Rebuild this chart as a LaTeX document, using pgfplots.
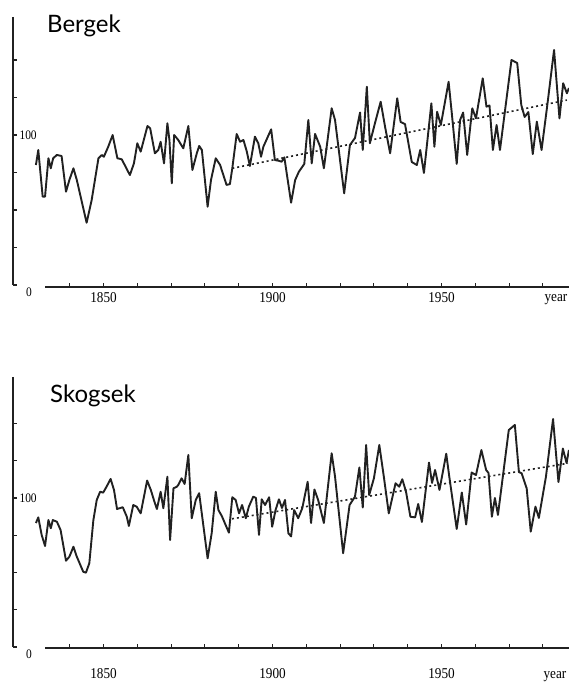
\documentclass[border=0pt]{standalone}
\usepackage{fontspec}
\usepackage{pgfplots}
\pgfplotsset{compat=1.18}
\newfontfamily\titlefont{Lato}
\newfontfamily\tickfont[FakeStretch=0.88]{Liberation Serif}

\definecolor{ink}{gray}{0.13}

\pgfplotsset{
  panel/.style={
    anchor=south west, scale only axis, width=556pt,
    xmin=1823.22, xmax=1987.72,
    separate axis lines, axis x line*=bottom, axis y line*=left,
    x axis line style={draw=none}, y axis line style={draw=none},
    clip=false, tick align=inside, major tick length=3.5pt,
    tick style={ink, line width=1.1pt},
    xtick={1840,1850,...,1980},
    xticklabels={,1850,,,,,1900,,,,,1950,,,},
    ytick={0,25,...,150},
    yticklabels={,,,,100,,},
    yticklabel style={font={\tickfont\fontsize{13pt}{13pt}\selectfont}, anchor=west, xshift=3pt},
  },
  series/.style={ink, line width=1.9pt, line join=round, mark=none},
  trend/.style={ink, line width=1.6pt, dash pattern=on 2pt off 3pt, mark=none},
}

\begin{document}
\begin{tikzpicture}
\path[use as bounding box] (0pt,0pt) rectangle (569pt,686pt);

% Bergek
\begin{axis}[panel, at={(13pt,399pt)}, height=270pt, ymin=-1.33, ymax=178.67,
  xticklabel style={font={\tickfont\fontsize{15pt}{15pt}\selectfont}, anchor=north, yshift=-2pt}]
  \draw[ink, line width=1.3pt] (axis cs:1823.22,178.67) -- (axis cs:1823.22,0);
  \draw[ink, line width=1.3pt] (axis cs:1832.7,-1.33) -- (axis cs:1987.72,-1.33);
  \addplot[series] coordinates {
    (1830.0,80.0) (1830.7,90.0) (1832.0,58.9) (1832.7,58.9) (1833.7,84.5)
    (1834.4,77.8) (1835.1,84.5) (1836.2,86.7) (1837.6,86.0) (1838.9,62.2)
    (1839.9,70.0) (1841.1,77.8) (1842.1,70.0) (1845.0,41.5) (1846.5,56.7)
    (1848.5,84.5) (1849.5,86.7) (1850.1,85.5) (1851.4,92.2) (1852.7,100.0)
    (1854.1,84.5) (1855.4,83.8) (1857.8,73.3) (1859.0,81.1) (1860.0,94.5)
    (1861.0,88.9) (1863.0,106.0) (1863.8,104.5) (1865.2,87.8) (1866.2,90.0)
    (1866.9,95.5) (1867.9,81.1) (1868.9,107.8) (1869.5,96.7) (1870.2,67.8)
    (1870.9,100.0) (1872.1,96.7) (1873.6,91.1) (1875.1,106.0) (1876.3,76.7)
    (1877.6,87.8) (1878.3,92.7) (1879.1,90.0) (1880.8,52.2) (1881.8,70.0)
    (1883.2,84.5) (1884.5,80.0) (1886.4,66.7) (1887.4,67.3) (1888.1,77.8)
    (1889.4,100.7) (1890.4,95.5) (1891.4,96.7) (1892.4,88.9) (1893.3,79.3)
    (1894.8,98.9) (1895.8,94.5) (1896.6,85.5) (1897.3,92.2) (1899.6,103.8)
    (1900.7,83.3) (1901.7,82.9) (1902.7,82.2) (1903.5,85.1) (1904.2,74.5)
    (1905.5,54.9) (1906.7,70.0) (1907.8,75.5) (1909.4,80.7) (1910.6,110.0)
    (1911.6,81.1) (1912.6,100.7) (1914.1,92.2) (1915.2,77.8) (1917.5,117.8)
    (1918.5,110.0) (1921.2,61.1) (1922.9,93.3) (1924.4,98.0) (1925.9,115.0)
    (1926.7,90.0) (1927.9,132.2) (1928.8,94.5) (1930.3,107.8) (1932.0,122.2)
    (1933.3,105.5) (1934.8,87.8) (1936.9,124.5) (1937.9,108.7) (1939.2,107.3)
    (1941.2,82.0) (1942.7,80.0) (1943.7,90.0) (1944.8,74.7) (1947.0,121.1)
    (1947.9,92.2) (1948.7,115.5) (1949.8,106.7) (1952.1,135.5) (1953.0,115.5)
    (1954.5,80.7) (1955.5,110.0) (1956.4,115.0) (1957.6,86.7) (1959.1,117.8)
    (1960.2,111.1) (1962.2,137.8) (1963.3,118.9) (1964.2,119.7) (1965.2,90.0)
    (1966.3,106.7) (1967.3,90.0) (1970.7,150.0) (1972.4,148.0) (1973.6,120.0)
    (1974.6,112.0) (1975.7,115.3) (1977.0,87.3) (1978.2,108.9) (1979.6,90.0)
    (1981.4,121.7) (1983.3,156.7) (1984.9,111.1) (1986.0,134.5) (1987.1,127.8)
    (1987.7,131.3)
  };
  \addplot[trend] coordinates {(1888.1,77.8) (1987.1,123.3)};
  \node[font={\tickfont\fontsize{13pt}{13pt}\selectfont}, anchor=center]
    at (axis cs:1823.22,0) [xshift=16pt, yshift=-7pt] {0};
\end{axis}

% Skogsek
\begin{axis}[panel, at={(13pt,38pt)}, height=271pt, ymin=-0.67, ymax=181.2,
  xticklabel style={font={\tickfont\fontsize{15pt}{15pt}\selectfont}, anchor=north, yshift=-17pt}]
  \draw[ink, line width=1.3pt] (axis cs:1823.22,181.2) -- (axis cs:1823.22,0);
  \draw[ink, line width=1.3pt] (axis cs:1832.7,-0.67) -- (axis cs:1987.72,-0.67);
  \addplot[series] coordinates {
    (1830.0,83.2) (1830.7,87.0) (1831.7,75.2) (1832.7,67.8) (1833.7,85.2)
    (1834.4,79.7) (1835.0,85.2) (1836.2,84.1) (1837.3,78.5) (1838.9,57.9)
    (1839.9,60.6) (1841.1,67.3) (1842.1,60.6) (1844.0,50.5) (1844.8,49.9)
    (1845.8,56.2) (1847.0,85.2) (1848.0,98.7) (1849.0,104.2) (1849.9,103.6)
    (1850.9,107.6) (1852.1,112.8) (1853.1,105.4) (1854.0,92.6) (1855.7,93.8)
    (1856.9,87.4) (1857.5,81.2) (1858.8,95.3) (1859.8,94.2) (1861.0,89.7)
    (1862.9,111.7) (1864.0,105.4) (1864.9,98.7) (1865.8,92.6) (1866.9,104.2)
    (1867.7,93.1) (1868.9,114.3) (1869.7,71.8) (1870.7,106.5) (1871.7,107.6)
    (1872.1,108.7) (1873.1,113.2) (1874.0,109.4) (1875.1,128.9) (1876.1,86.4)
    (1877.3,98.7) (1878.3,103.2) (1880.8,59.5) (1882.0,76.3) (1883.2,104.2)
    (1884.0,91.9) (1885.0,87.9) (1887.1,76.7) (1888.1,100.5) (1889.1,98.7)
    (1890.1,89.7) (1891.0,95.3) (1892.1,86.4) (1893.0,94.2) (1894.3,100.9)
    (1895.1,100.0) (1896.0,75.2) (1896.8,99.1) (1897.8,95.3) (1899.0,100.5)
    (1899.9,80.7) (1900.9,91.9) (1901.9,99.1) (1902.8,93.3) (1903.7,98.7)
    (1904.7,76.3) (1905.5,74.2) (1906.4,91.9) (1907.6,86.4) (1908.8,93.1)
    (1910.4,110.9) (1911.4,83.2) (1912.4,105.7) (1913.5,98.7) (1915.2,83.2)
    (1917.5,130.0) (1918.5,114.3) (1920.9,62.9) (1922.8,95.3) (1924.4,100.9)
    (1925.7,120.5) (1926.7,93.6) (1927.7,135.6) (1928.6,102.0) (1930.0,113.2)
    (1931.6,135.6) (1933.0,113.2) (1934.4,89.7) (1936.4,109.9) (1937.5,107.6)
    (1938.4,112.6) (1939.5,104.2) (1940.8,87.4) (1942.2,87.0) (1943.1,96.0)
    (1944.2,83.9) (1946.3,123.8) (1947.2,110.1) (1948.1,118.8) (1949.4,105.4)
    (1951.4,129.7) (1952.3,114.3) (1954.5,79.2) (1956.0,103.7) (1957.3,82.2)
    (1958.9,117.1) (1960.2,115.4) (1961.8,132.2) (1963.2,118.8) (1963.9,116.8)
    (1964.9,87.4) (1965.8,100.0) (1966.7,88.6) (1969.9,145.6) (1971.7,149.0)
    (1972.9,117.4) (1973.7,116.6) (1975.2,106.5) (1976.4,77.4) (1977.8,94.2)
    (1978.8,86.6) (1980.9,114.3) (1983.0,153.0) (1984.6,110.7) (1985.9,133.2)
    (1987.0,123.5) (1987.7,132.2)
  };
  \addplot[trend] coordinates {(1888.0,86.0) (1987.4,123.3)};
  \node[font={\tickfont\fontsize{13pt}{13pt}\selectfont}, anchor=center]
    at (axis cs:1823.22,0) [xshift=16pt, yshift=-7pt] {0};
\end{axis}

% panel titles and axis names
\node[anchor=base west, inner sep=0pt, font={\titlefont\fontsize{24pt}{24pt}\selectfont}]
  at (47pt,653pt) {Bergek};
\node[anchor=base west, inner sep=0pt, font={\titlefont\fontsize{24pt}{24pt}\selectfont}]
  at (50pt,283pt) {Skogsek};
\node[anchor=center, inner sep=0pt, font={\tickfont\fontsize{15pt}{15pt}\selectfont}] at (556pt,386pt) {year};
\node[anchor=center, inner sep=0pt, font={\tickfont\fontsize{15pt}{15pt}\selectfont}] at (555pt,9pt) {year};
\end{tikzpicture}
\end{document}
